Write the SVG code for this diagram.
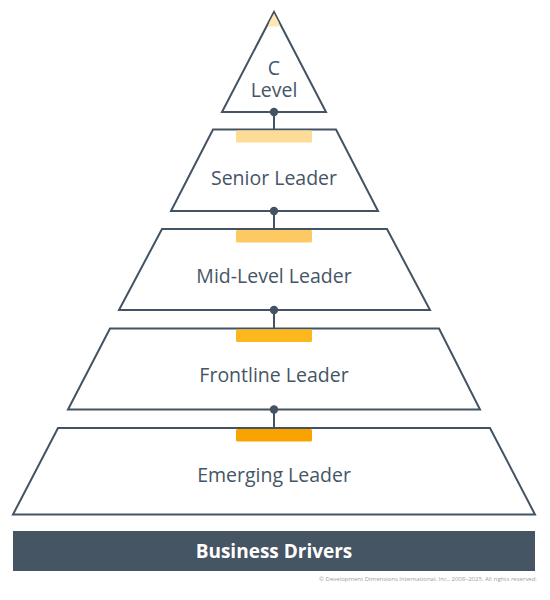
<svg xmlns="http://www.w3.org/2000/svg" width="550" height="600" viewBox="0 0 550 600">
<style>
.tier{fill:#fff;stroke:#435363;stroke-width:2;stroke-linejoin:miter}
.lbl{font-family:"Open Sans","Noto Sans",sans-serif;font-size:19.5px;fill:#455565;text-anchor:middle}
.conn{stroke:#435363;stroke-width:2}
.dot{fill:#435363}
.bar{fill:#465563}
.bl{font-family:"Open Sans","Noto Sans",sans-serif;font-size:19px;font-weight:bold;fill:#fff;text-anchor:middle}
.copy{font-family:"Open Sans","Noto Sans",sans-serif;font-size:6px;fill:#9aa0a6;text-anchor:end}
</style>
<rect width="550" height="600" fill="#fff"/>
<g id="c-level">
<polygon class="tier" points="274,12 326,112 222,112"/>
<polygon points="274,13.5 278.5,22 280,26.5 268,26.5 269.5,22" fill="#FEE7B5"/>
<text class="lbl" font-size="19px"><tspan x="274" y="75">C</tspan><tspan x="274" y="97">Level</tspan></text>
</g>
<g id="senior-leader">
<polygon class="tier" points="213,129.5 336,129.5 378,211 171,211"/>
<rect x="236" y="130.5" width="76" height="12" rx="1.5" fill="#FDDC95"/>
<text class="lbl" x="274" y="185">Senior Leader</text>
</g>
<g id="mid-level-leader">
<polygon class="tier" points="162,229 387,229 430,310 119,310"/>
<rect x="236" y="230" width="76" height="12.5" rx="1.5" fill="#FDC962"/>
<text class="lbl" x="274" y="283">Mid-Level Leader</text>
</g>
<g id="frontline-leader">
<polygon class="tier" points="110,328.5 439,328.5 480,409.5 68,409.5"/>
<rect x="236" y="329.5" width="76" height="12.5" rx="1.5" fill="#FDB81E"/>
<text class="lbl" x="274" y="382">Frontline Leader</text>
</g>
<g id="emerging-leader">
<polygon class="tier" points="58,428 490,428 535,514.5 13,514.5"/>
<rect x="236" y="429" width="76" height="12.5" rx="1.5" fill="#F9A300"/>
<text class="lbl" x="274" y="482">Emerging Leader</text>
</g>
<g id="connectors">
<line class="conn" x1="274" y1="112" x2="274" y2="129.5"/>
<circle class="dot" cx="274" cy="112" r="4.2"/>
<line class="conn" x1="274" y1="211" x2="274" y2="229"/>
<circle class="dot" cx="274" cy="211" r="4.2"/>
<line class="conn" x1="274" y1="310" x2="274" y2="328.5"/>
<circle class="dot" cx="274" cy="310" r="4.2"/>
<line class="conn" x1="274" y1="409.5" x2="274" y2="428"/>
<circle class="dot" cx="274" cy="409.5" r="4.2"/>
</g>
<g id="business-drivers">
<rect class="bar" x="13" y="531" width="522" height="40"/>
<text class="bl" x="274" y="558">Business Drivers</text>
</g>
<text class="copy" x="537" y="581">© Development Dimensions International, Inc., 2008–2025.  All rights reserved.</text>
</svg>
